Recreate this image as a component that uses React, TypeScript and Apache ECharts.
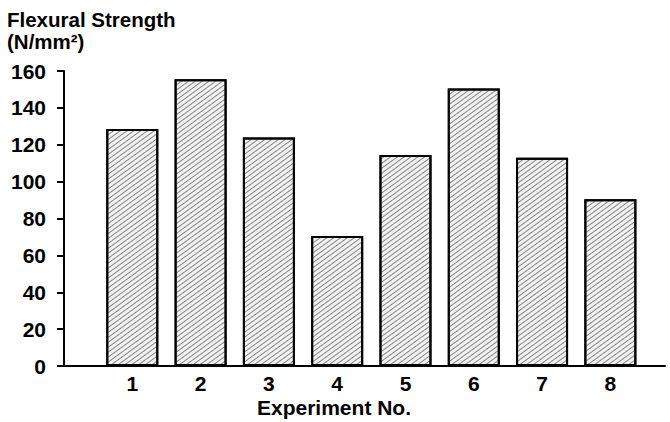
import React, { useEffect, useRef } from 'react';
import * as echarts from 'echarts';

const experiments = [1, 2, 3, 4, 5, 6, 7, 8];
const strength = [128.5, 155.5, 124, 70.5, 114.5, 150.5, 113, 90.5];
const titleLines = ['Flexural Strength', '(N/mm²)'];
const xTitle = 'Experiment No.';

const FONT = '"Liberation Sans", Arial, sans-serif';

export default function App() {
  const ref = useRef<HTMLDivElement>(null);
  useEffect(() => {
    if (!ref.current) return;
    const chart = echarts.init(ref.current, null, { renderer: 'svg' });
    chart.setOption({
      animation: false,
      backgroundColor: '#fff',
      textStyle: { fontFamily: FONT },
      grid: { left: 64, right: 5, top: 71, bottom: 56 },
      graphic: [
        {
          type: 'text',
          left: 7,
          top: 8,
          style: {
            text: titleLines.join('\n'),
            font: `bold 20.5px ${FONT}`,
            lineHeight: 22,
            fill: '#000',
          },
        },
        {
          type: 'text',
          left: 257,
          top: 397,
          style: { text: xTitle, font: `bold 21px ${FONT}`, fill: '#000' },
        },
      ],
      xAxis: {
        type: 'value',
        min: 0,
        max: 8.8,
        interval: 1,
        splitLine: { show: false },
        axisTick: { show: false },
        axisLine: { show: true, onZero: true, lineStyle: { color: '#000', width: 2 } },
        axisLabel: {
          color: '#000',
          fontSize: 21,
          fontWeight: 'bold',
          fontFamily: FONT,
          margin: 7,
          showMaxLabel: false,
          formatter: (v: number) =>
            Number.isInteger(v) && v >= 1 && v <= 8 ? String(v) : '',
        },
      },
      yAxis: {
        type: 'value',
        min: 0,
        max: 160,
        interval: 20,
        splitLine: { show: false },
        axisLine: { show: true, lineStyle: { color: '#000', width: 2 } },
        axisTick: { show: true, length: 7, lineStyle: { color: '#000', width: 2 } },
        axisLabel: { color: '#000', fontSize: 21, fontWeight: 'bold', fontFamily: FONT, margin: 18 },
      },
      series: [
        {
          type: 'bar',
          barWidth: 52,
          data: experiments.map((e, i) => [e, strength[i]]),
          itemStyle: {
            color: '#f2f2f2',
            borderColor: '#000',
            borderWidth: 2,
            decal: {
              symbol: 'rect',
              symbolSize: 1,
              color: 'rgba(60,60,60,0.6)',
              dashArrayX: [1, 0],
              dashArrayY: [1, 3],
              rotation: -Math.PI / 5,
            },
          },
        },
      ],
    });
    return () => chart.dispose();
  }, []);
  return <div ref={ref} style={{ width: 670, height: 422, position: 'absolute', left: 0, top: 0 }} />;
}
